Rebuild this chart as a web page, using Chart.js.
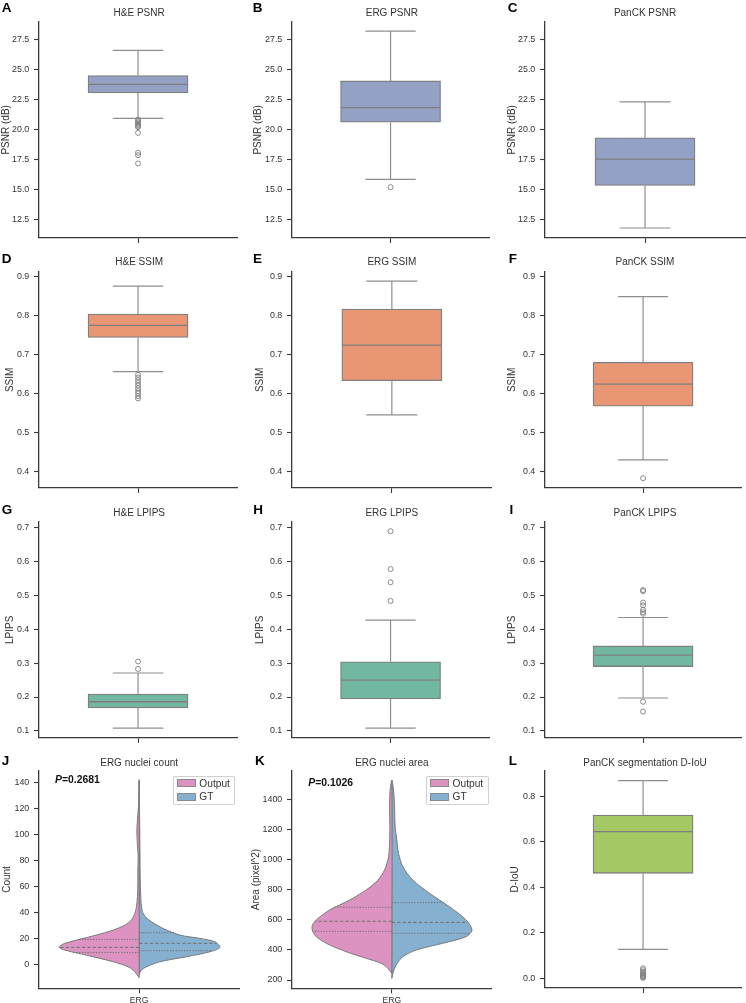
<!DOCTYPE html>
<html>
<head>
<meta charset="utf-8">
<script src="https://cdn.jsdelivr.net/npm/chart.js@4.4.0/dist/chart.umd.min.js"></script>
<style>
html,body{margin:0;padding:0;background:#fff;}
body{width:746px;height:1003px;overflow:hidden;position:relative;font-family:"Liberation Sans",Arial,sans-serif;}
canvas{position:absolute;}
.let{position:absolute;font-weight:bold;font-size:13.5px;line-height:1;color:#000;}
.ttl{position:absolute;font-size:10px;line-height:1;color:#333;transform:translate(-50%,-50%);white-space:nowrap;}
.pv{position:absolute;font-size:10.4px;line-height:1;font-weight:bold;color:#111;transform:translateY(-50%);white-space:nowrap;}
.leg{position:absolute;border:1px solid #d0d0d0;border-radius:2px;background:rgba(255,255,255,0.85);box-sizing:border-box;}
.patch{position:absolute;box-sizing:border-box;border:1px solid #8a8a8a;}
.ltx{position:absolute;font-size:10.2px;line-height:1;color:#333;transform:translateY(-50%);white-space:nowrap;}
</style>
</head>
<body>
<script>
// ---------------- data ----------------
const psnrTicks = [12.5, 15, 17.5, 20, 22.5, 25, 27.5];
const ssimTicks = [0.4, 0.5, 0.6, 0.7, 0.8, 0.9];
const lpipsTicks = [0.1, 0.2, 0.3, 0.4, 0.5, 0.6, 0.7];
const countTicks = [0, 20, 40, 60, 80, 100, 120, 140];
const areaTicks = [200, 400, 600, 800, 1000, 1200, 1400];
const diouTicks = [0.0, 0.2, 0.4, 0.6, 0.8];

// box stats: [lower whisker, Q1, median, Q3, upper whisker]
const hePsnrStats = [20.96, 23.07, 23.79, 24.51, 26.61];
const hePsnrOutliers = [20.85, 20.72, 20.62, 20.52, 20.42, 20.32, 20.22, 19.75, 18.09, 17.89, 17.2];
const ergPsnrStats = [15.87, 20.63, 21.85, 24.07, 28.22];
const ergPsnrOutliers = [15.23];
const panckPsnrStats = [11.83, 15.37, 17.56, 19.33, 22.33];
const panckPsnrOutliers = [];

const heSsimStats = [0.656, 0.744, 0.775, 0.804, 0.876];
const heSsimOutliers = [0.648, 0.641, 0.634, 0.627, 0.620, 0.613, 0.606, 0.600, 0.593, 0.587];
const ergSsimStats = [0.545, 0.633, 0.724, 0.817, 0.889];
const ergSsimOutliers = [];
const panckSsimStats = [0.429, 0.567, 0.624, 0.680, 0.849];
const panckSsimOutliers = [0.382];

const heLpipsStats = [0.108, 0.168, 0.186, 0.209, 0.271];
const heLpipsOutliers = [0.283, 0.305];
const ergLpipsStats = [0.108, 0.194, 0.250, 0.304, 0.427];
const ergLpipsOutliers = [0.484, 0.539, 0.578, 0.690];
const panckLpipsStats = [0.197, 0.290, 0.324, 0.351, 0.435];
const panckLpipsOutliers = [0.446, 0.451, 0.458, 0.471, 0.479, 0.513, 0.516, 0.186, 0.157];

const diouStats = [0.126, 0.461, 0.644, 0.717, 0.869];
const diouOutliers = [0.043, 0.035, 0.028, 0.022, 0.017, 0.012, 0.008, 0.004, 0.001];

// violins (value levels, half-widths in axis units)
const countOutputLevels = [-10.6, -5.9, -2.1, 1.8, 6.9, 10.8, 12.9, 15.4, 18.5, 22.4, 26.2, 30.1, 34, 39.1, 44.3, 52, 62.3, 72.6, 82.9, 95.7, 103.4, 111.2, 121.5, 131.8, 142];
const countOutputWidths = [0, 0.0215, 0.055, 0.13, 0.2635, 0.3715, 0.4, 0.38, 0.3135, 0.2135, 0.13, 0.0715, 0.0385, 0.0215, 0.0135, 0.0085, 0.0065, 0.0065, 0.005, 0.01, 0.0115, 0.0085, 0.0035, 0.0015, 0];
const countGtLevels = [-8, -4.6, -2.1, 1.8, 5.7, 9.5, 12.9, 17.2, 19.8, 22.4, 27.5, 32.7, 36.5, 40.4, 46.8, 57.1, 70, 95.7, 121.5, 140.8];
const countGtWidths = [0, 0.0115, 0.0365, 0.1035, 0.2365, 0.3535, 0.4035, 0.3785, 0.3035, 0.2035, 0.12, 0.0615, 0.0315, 0.0165, 0.01, 0.0065, 0.005, 0.0035, 0.0015, 0];
const countOutputQuartiles = [9.0, 12.9, 19.0];
const countOutputQuartileWidths = [0.33, 0.4, 0.30];
const countGtQuartiles = [10.3, 16.0, 24.2];
const countGtQuartileWidths = [0.365, 0.385, 0.18];

const areaOutputLevels = [244, 278, 311, 344, 388, 444, 499, 554, 599, 665, 731, 798, 864, 931, 1019, 1108, 1218, 1351, 1462, 1524];
const areaOutputWidths = [0, 0.02, 0.0535, 0.1285, 0.2285, 0.3285, 0.3865, 0.4, 0.3785, 0.3115, 0.2115, 0.1285, 0.07, 0.0365, 0.0165, 0.0115, 0.01, 0.0115, 0.0085, 0];
const areaGtLevels = [211, 244, 300, 355, 399, 444, 488, 532, 599, 687, 776, 864, 953, 1041, 1130, 1218, 1351, 1462, 1524];
const areaGtWidths = [0, 0.005, 0.0215, 0.055, 0.1215, 0.255, 0.3715, 0.4015, 0.3715, 0.2885, 0.1885, 0.105, 0.055, 0.0335, 0.025, 0.0165, 0.0135, 0.0085, 0];
const areaOutputQuartiles = [523, 590, 683];
const areaOutputQuartileWidths = [0.39, 0.383, 0.295];
const areaGtQuartiles = [510, 583, 714];
const areaGtQuartileWidths = [0.387, 0.38, 0.263];

// ---------------- style ----------------
const C_PSNR = '#93a1c4', C_SSIM = '#e99675', C_LPIPS = '#72b7a1', C_DIOU = '#a3c864';
const C_OUT = '#dc93c2', C_GT = '#85b0d0';
const AX = '#3a3a3a', TXT = '#333333', EDGE = '#7f7f7f', WHISK = '#8e8e8e';
const FONT = "'Liberation Sans', Arial, sans-serif";
Chart.defaults.font.family = FONT;

const rowTop = [21.7, 271.7, 521.7, 770.7];
const rowBottom = [238.3, 488.3, 738.3, 988.3];
const colLeft = [0, 250, 496];
const axisLeft = [39, 292, 545];
const plotRight = [239.3, 491.7, 745];

function makeChart(p, datasets) {
  const cLeft = colLeft[p.c];
  const cTop = Math.floor(rowTop[p.r]) - 20;
  const w = Math.min(746, Math.ceil(plotRight[p.c]) + 2) - cLeft;
  const bottomEdge = p.xLabel ? 1003 : Math.ceil(rowBottom[p.r]) + 9;
  const h = bottomEdge - cTop;
  const cv = document.createElement('canvas');
  cv.width = w; cv.height = h;
  cv.style.left = cLeft + 'px'; cv.style.top = cTop + 'px';
  cv.style.width = w + 'px'; cv.style.height = h + 'px';
  document.body.appendChild(cv);
  const xh = h - (rowBottom[p.r] - cTop);
  const yw = axisLeft[p.c] - cLeft;
  new Chart(cv, {
    type: 'scatter',
    data: { datasets },
    options: {
      responsive: false, animation: false, events: [], devicePixelRatio: 1,
      layout: { padding: { left: 0, bottom: 0, top: rowTop[p.r] - cTop, right: w - (plotRight[p.c] - cLeft) } },
      plugins: { legend: { display: false }, tooltip: { enabled: false }, title: { display: false } },
      scales: {
        x: {
          type: 'linear', min: -0.5, max: 0.5, offset: false,
          afterBuildTicks: s => { s.ticks = [{ value: 0 }]; },
          afterFit: s => { s.height = xh; },
          ticks: { callback: () => p.xLabel || '', color: TXT, font: { size: 8.6 }, padding: 2, maxRotation: 0, autoSkip: false },
          grid: { display: true, drawOnChartArea: false, drawTicks: true, tickLength: 5, tickWidth: 1.1, tickColor: AX, color: AX, offset: false },
          border: { display: true, color: AX, width: 1.3 }
        },
        y: {
          type: 'linear', min: p.yMin, max: p.yMax,
          afterBuildTicks: s => { s.ticks = p.yTicks.map(v => ({ value: v })); },
          afterFit: s => { s.width = yw; },
          ticks: { callback: v => p.fmt(v), color: TXT, font: { size: 8.9 }, padding: 4.7, autoSkip: false },
          grid: { display: true, drawOnChartArea: false, drawTicks: true, tickLength: 5, tickWidth: 1.1, tickColor: AX, color: AX },
          border: { display: true, color: AX, width: 1.3 },
          title: { display: true, text: p.yTitle, color: TXT, font: { size: 10 }, padding: { top: p.titlePad, bottom: 0 } }
        }
      }
    }
  });
}

const CAP = 0.1275, HALF = 0.25;
function lineDs(points, extra) {
  return Object.assign({ type: 'line', data: points, borderColor: WHISK, borderWidth: 1.2, pointRadius: 0, fill: false, tension: 0, order: 2 }, extra || {});
}
function boxDatasets(stats, outliers, color) {
  const [lo, q1, med, q3, hi] = stats;
  return [
    { type: 'bar', data: [{ x: 0, y: [q1, q3] }], backgroundColor: color, borderColor: EDGE, borderWidth: 1.3, borderSkipped: false, barThickness: 100, grouped: false, order: 3 },
    lineDs([{ x: 0, y: q3 }, { x: 0, y: hi }]),
    lineDs([{ x: 0, y: q1 }, { x: 0, y: lo }]),
    lineDs([{ x: -CAP, y: hi }, { x: CAP, y: hi }]),
    lineDs([{ x: -CAP, y: lo }, { x: CAP, y: lo }]),
    lineDs([{ x: -HALF, y: med }, { x: HALF, y: med }], { borderColor: EDGE, borderWidth: 1.3, order: 1 }),
    { type: 'scatter', data: outliers.map(v => ({ x: 0, y: v })), pointRadius: 2.5, pointBorderWidth: 0.9, pointBackgroundColor: 'rgba(255,255,255,0)', pointBorderColor: EDGE, order: 0 }
  ];
}
function halfViolin(levels, widths, sign, color) {
  const pts = levels.map((v, i) => ({ x: sign * widths[i], y: v }));
  pts.push({ x: 0, y: levels[0] });
  return { type: 'line', data: pts, fill: 'shape', backgroundColor: color, borderColor: '#7a7a7a', borderWidth: 1, pointRadius: 0, tension: 0.3, order: 3 };
}
function quartileLines(qs, ws, sign) {
  return qs.map((q, i) => lineDs([{ x: 0, y: q }, { x: sign * ws[i], y: q }], {
    borderColor: '#6e6e6e', borderWidth: 1, order: 1, borderDash: i === 1 ? [3.2, 2.2] : [1.3, 1.5]
  }));
}
const f1 = v => v.toFixed(1);
const f0 = v => String(Math.round(v));

// row 1 PSNR
makeChart({ r: 0, c: 0, yMin: 11.0, yMax: 29.0, yTicks: psnrTicks, fmt: f1, yTitle: 'PSNR (dB)', titlePad: 0 }, boxDatasets(hePsnrStats, hePsnrOutliers, C_PSNR));
makeChart({ r: 0, c: 1, yMin: 11.0, yMax: 29.0, yTicks: psnrTicks, fmt: f1, yTitle: 'PSNR (dB)', titlePad: 2.5 }, boxDatasets(ergPsnrStats, ergPsnrOutliers, C_PSNR));
makeChart({ r: 0, c: 2, yMin: 11.0, yMax: 29.0, yTicks: psnrTicks, fmt: f1, yTitle: 'PSNR (dB)', titlePad: 10 }, boxDatasets(panckPsnrStats, panckPsnrOutliers, C_PSNR));
// row 2 SSIM
makeChart({ r: 1, c: 0, yMin: 0.357, yMax: 0.913, yTicks: ssimTicks, fmt: f1, yTitle: 'SSIM', titlePad: 4 }, boxDatasets(heSsimStats, heSsimOutliers, C_SSIM));
makeChart({ r: 1, c: 1, yMin: 0.357, yMax: 0.913, yTicks: ssimTicks, fmt: f1, yTitle: 'SSIM', titlePad: 4 }, boxDatasets(ergSsimStats, ergSsimOutliers, C_SSIM));
makeChart({ r: 1, c: 2, yMin: 0.357, yMax: 0.913, yTicks: ssimTicks, fmt: f1, yTitle: 'SSIM', titlePad: 10 }, boxDatasets(panckSsimStats, panckSsimOutliers, C_SSIM));
// row 3 LPIPS
makeChart({ r: 2, c: 0, yMin: 0.079, yMax: 0.718, yTicks: lpipsTicks, fmt: f1, yTitle: 'LPIPS', titlePad: 4 }, boxDatasets(heLpipsStats, heLpipsOutliers, C_LPIPS));
makeChart({ r: 2, c: 1, yMin: 0.079, yMax: 0.718, yTicks: lpipsTicks, fmt: f1, yTitle: 'LPIPS', titlePad: 4 }, boxDatasets(ergLpipsStats, ergLpipsOutliers, C_LPIPS));
makeChart({ r: 2, c: 2, yMin: 0.079, yMax: 0.718, yTicks: lpipsTicks, fmt: f1, yTitle: 'LPIPS', titlePad: 10 }, boxDatasets(panckLpipsStats, panckLpipsOutliers, C_LPIPS));
// row 4
makeChart({ r: 3, c: 0, yMin: -18.7, yMax: 149.3, yTicks: countTicks, fmt: f0, yTitle: 'Count', titlePad: 1, xLabel: 'ERG' }, [
  halfViolin(countOutputLevels, countOutputWidths, -1, C_OUT),
  halfViolin(countGtLevels, countGtWidths, 1, C_GT),
  ...quartileLines(countOutputQuartiles, countOutputQuartileWidths, -1),
  ...quartileLines(countGtQuartiles, countGtQuartileWidths, 1)
]);
makeChart({ r: 3, c: 1, yMin: 145, yMax: 1590, yTicks: areaTicks, fmt: f0, yTitle: 'Area (pixel^2)', titlePad: 0, xLabel: 'ERG' }, [
  halfViolin(areaOutputLevels, areaOutputWidths, -1, C_OUT),
  halfViolin(areaGtLevels, areaGtWidths, 1, C_GT),
  ...quartileLines(areaOutputQuartiles, areaOutputQuartileWidths, -1),
  ...quartileLines(areaGtQuartiles, areaGtQuartileWidths, 1)
]);
makeChart({ r: 3, c: 2, yMin: -0.0435, yMax: 0.9125, yTicks: diouTicks, fmt: f1, yTitle: 'D-IoU', titlePad: 13 }, boxDatasets(diouStats, diouOutliers, C_DIOU));

// ---------------- text ----------------
function addDiv(cls, html, x, y) {
  const d = document.createElement('div');
  d.className = cls; d.innerHTML = html;
  d.style.left = x + 'px'; d.style.top = y + 'px';
  document.body.appendChild(d);
  return d;
}
const panelLetters = ['A', 'B', 'C', 'D', 'E', 'F', 'G', 'H', 'I', 'J', 'K', 'L'];
const letterX = [1.7, 252.7, 507.7, 1.7, 253, 508.7, 1.7, 253.3, 509.5, 1.7, 255, 508.7];
const letterY = [2.7, 2.7, 2.7, 253.3, 253.3, 253.3, 504, 504, 504, 755, 755, 755];
panelLetters.forEach((L, i) => addDiv('let', L, letterX[i], letterY[i] - 1.5));

const panelTitles = ['H&amp;E PSNR', 'ERG PSNR', 'PanCK PSNR', 'H&amp;E SSIM', 'ERG SSIM', 'PanCK SSIM', 'H&amp;E LPIPS', 'ERG LPIPS', 'PanCK LPIPS', 'ERG nuclei count', 'ERG nuclei area', 'PanCK segmentation D-IoU'];
const titleY = [13, 262, 512.7, 763];
panelTitles.forEach((t, i) => {
  const c = i % 3, r = Math.floor(i / 3);
  addDiv('ttl', t, (axisLeft[c] + plotRight[c]) / 2, titleY[r]);
});

addDiv('pv', '<i>P</i>=0.2681', 55, 779.5);
addDiv('pv', '<i>P</i>=0.1026', 308.3, 782.5);

function legend(x) {
  const f = addDiv('leg', '', x, 776);
  f.style.width = '62.5px'; f.style.height = '29px';
  const p1 = addDiv('patch', '', x + 4, 779.3); p1.style.width = '19.3px'; p1.style.height = '8px'; p1.style.background = C_OUT;
  const p2 = addDiv('patch', '', x + 4, 793); p2.style.width = '19.3px'; p2.style.height = '8px'; p2.style.background = C_GT;
  addDiv('ltx', 'Output', x + 26.6, 783.5);
  addDiv('ltx', 'GT', x + 26.6, 797.2);
}
legend(172.7);
legend(426);
</script>
</body>
</html>
